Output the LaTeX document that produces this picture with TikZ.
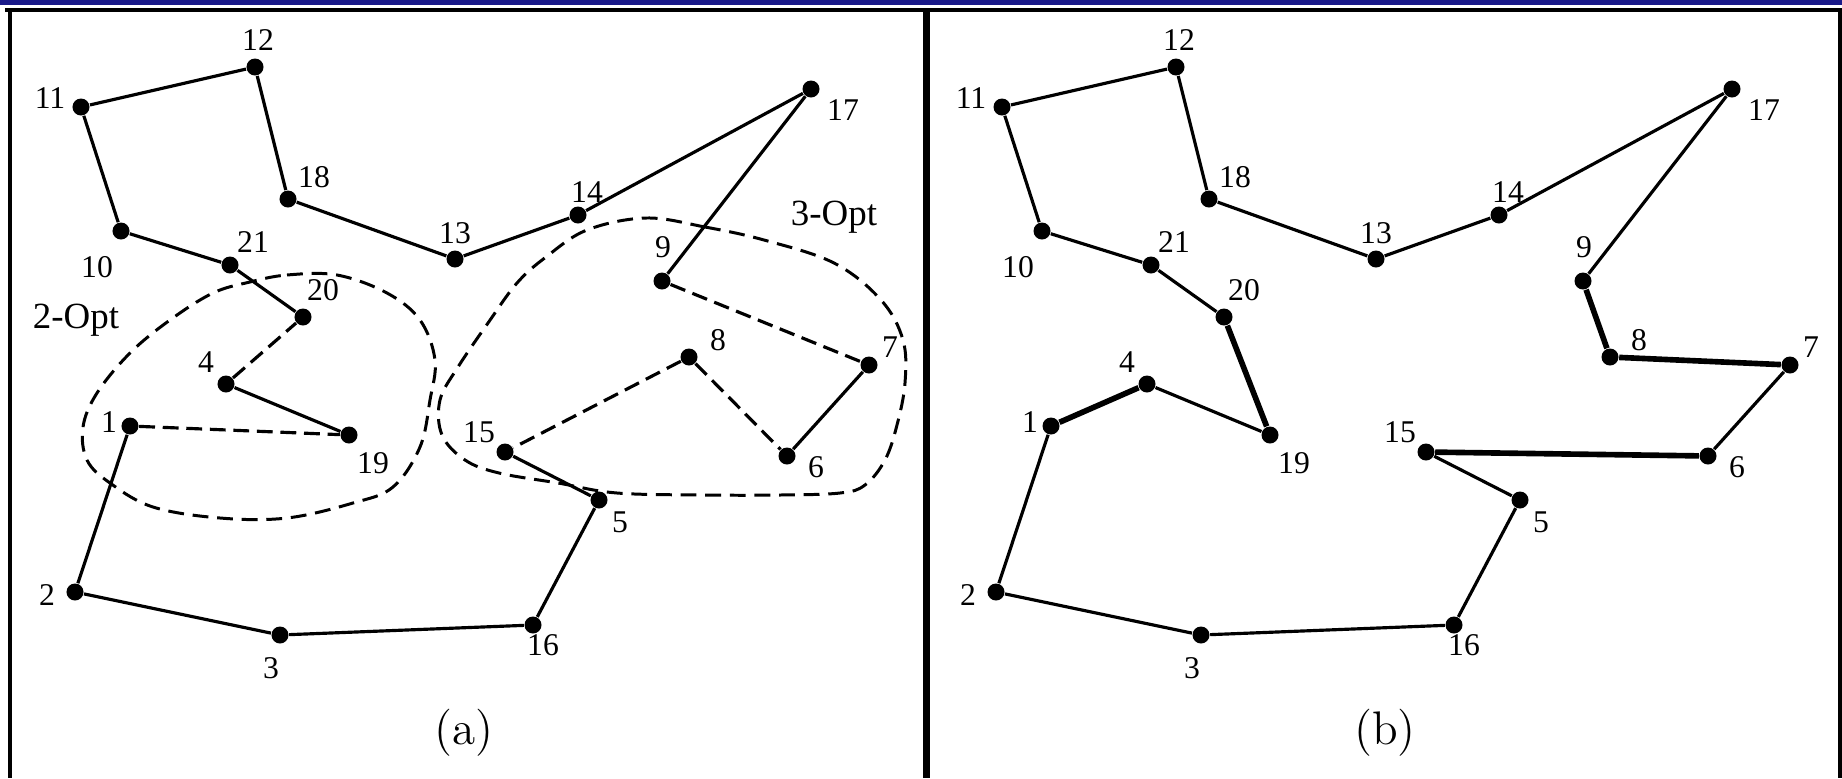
\documentclass[tikz,border=0pt]{standalone}
\usepackage{fontspec}
\newfontfamily\tourfont{Liberation Serif}
\definecolor{barblue}{RGB}{26,26,138}

\begin{document}
\begin{tikzpicture}[x=0.01cm, y=-0.01cm,
    city/.style={circle, fill, inner sep=0pt, minimum size=0.17cm},
    num/.style={inner sep=0pt, font=\tourfont\fontsize{9}{10}\selectfont},
    optlabel/.style={inner sep=0pt, font=\tourfont\fontsize{10.5}{12}\selectfont},
    caption/.style={inner sep=0pt, font=\fontsize{13.4}{16}\selectfont},
    tour/.style={line width=0.9pt},
    cut/.style={line width=0.9pt, dash pattern=on 4.5pt off 2.2pt},
    newedge/.style={line width=1.6pt},
    region/.style={line width=0.85pt, dash pattern=on 4.5pt off 2.5pt},
    frame/.style={line width=1.14pt}
]
    \useasboundingbox (0,0) rectangle (1842,778);

    % Header bar and frames
    \fill[barblue] (0,0) rectangle (1842,5);
    \draw[frame] (5,10) -- (1842,10);
    \draw[frame] (10,10) -- (10,778);
    \draw[frame, line width=2pt] (926.5,10) -- (926.5,778);
    \draw[frame] (1840,10) -- (1840,778);

    % Cities in both panels
    \foreach \n/\x/\y/\lx/\ly in {
        1/130/426/109/422, 2/75/592/47/595, 3/280/635/271/668,
        4/226/384/206/362, 5/599/500/620/522, 6/787/456/816/467,
        7/869/365/890/347, 8/689/357/718/340, 9/662/281/663/247,
        10/121/231/97/267, 11/81/107/50/98, 12/255/67/258/40,
        13/455/259/455/233, 14/578/215/587/192, 15/505/452/479/432,
        16/533/625/543/645, 17/811/89/843/110, 18/288/199/314/177,
        19/349/435/373/463, 20/303/317/323/290, 21/230/265/253/242}{
        \node[city] (a\n) at (\x,\y) {};
        \node[num] (la\n) at (\lx,\ly) {\n};
        \node[city] (b\n) at (\x+921,\y) {};
        \node[num] (lb\n) at (\lx+921,\ly) {\n};
    }

    % Kept tour edges
    \foreach \p/\q in {11/12,12/18,18/13,13/14,14/17,17/9,7/6,15/5,5/16,16/3,3/2,2/1,19/4,20/21,21/10,10/11}{
        \draw[tour] (a\p) -- (a\q);
        \draw[tour] (b\p) -- (b\q);
    }

    % Removed edges (a) and new edges (b)
    \foreach \p/\q in {9/7,8/6,8/15,1/19,4/20}
        \draw[cut] (a\p) -- (a\q);
    \foreach \p/\q in {9/8,8/7,6/15,1/4,19/20}
        \draw[newedge] (b\p) -- (b\q);

    % Move regions
    \draw[region] plot[smooth cycle, tension=0.6] coordinates {
        (250,282) (287,275) (337,275) (387,293) (420,320) (435,360)
        (430,400) (420,447) (393,487) (353,503) (287,518) (220,518)
        (153,507) (110,483) (87,460) (83,427) (97,393) (130,353)
        (170,320) (213,293)};
    \draw[region] plot[smooth cycle, tension=0.6] coordinates {
        (646,218) (705,227) (764,240) (834,263) (881,300) (903,340)
        (905,383) (897,425) (885,460) (865,485) (840,493) (780,495)
        (705,495) (617,493) (558,483) (499,473) (465,460) (442,435)
        (440,400) (458,367) (488,323) (517,283) (546,257) (587,230)};
    \node[optlabel] (twoopt) at (76,320) {2-Opt};
    \node[optlabel] (threeopt) at (834,217) {3-Opt};

    % Captions
    \node[caption] (capa) at (464,733) {(a)};
    \node[caption] (capb) at (1385,733) {(b)};
\end{tikzpicture}
\end{document}
